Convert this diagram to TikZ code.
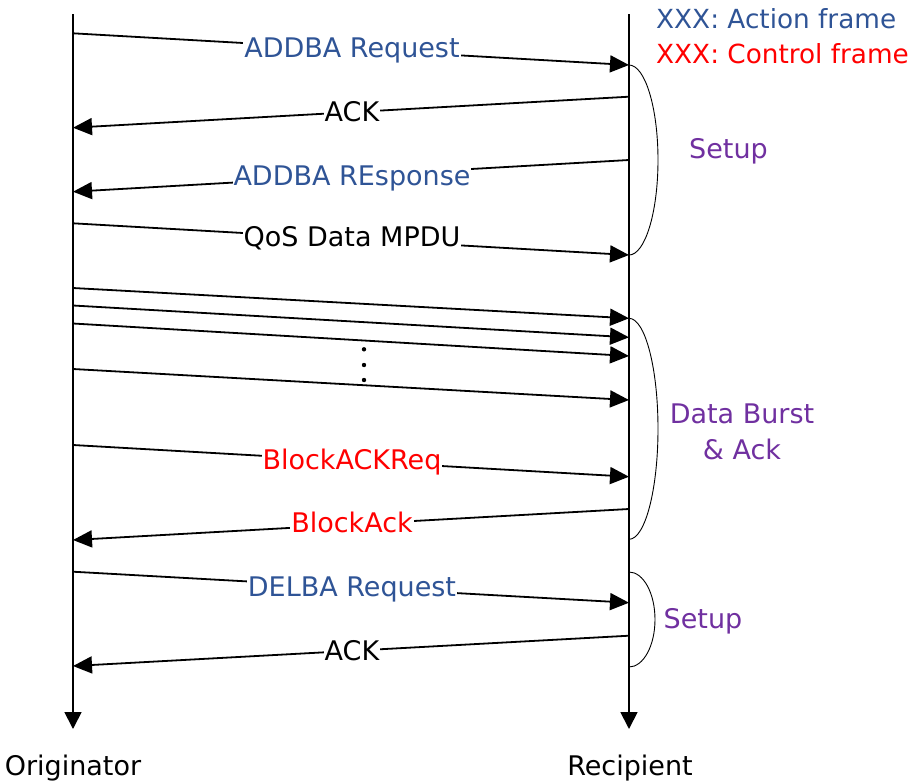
\documentclass[tikz,border=0pt]{standalone}
\usepackage{fontspec}
\setmainfont{DejaVu Sans}
\usetikzlibrary{arrows.meta}
\definecolor{actblue}{RGB}{47,84,150}
\definecolor{ctlred}{RGB}{255,0,0}
\definecolor{grpurple}{RGB}{112,48,160}

\begin{document}
\begin{tikzpicture}[x=1pt,y=-1pt,
  txt/.style={font=\fontsize{27}{30}\selectfont, inner xsep=1pt, inner ysep=0pt, anchor=base},
  keytxt/.style={txt, font=\fontsize{26.3}{30}\selectfont, anchor=base west},
  msglbl/.style={txt, fill=white},
  msg/.style={line width=1.8pt, -{Triangle[length=19pt,width=17pt]}},
  life/.style={line width=1.8pt, -{Triangle[length=17pt,width=17pt]}},
  bracket/.style={line width=0.9pt},
  dot/.style={circle, fill=black, inner sep=0pt, minimum size=4.4pt},
]
\useasboundingbox (0,0) rectangle (916,780);

% lifelines
\coordinate (ot) at (73,14);  \coordinate (ob) at (73,729);
\coordinate (rt) at (629,14); \coordinate (rb) at (629,729);
\draw[life] (ot) -- (ob);
\draw[life] (rt) -- (rb);
\node[txt] (orig) at (73,775) {Originator};
\node[txt] (reci) at (630,775) {Recipient};

% message end points on the lifelines
\coordinate (m1a) at (73,33.3);   \coordinate (m1b) at (629,65);
\coordinate (m2a) at (629,96.7);  \coordinate (m2b) at (73,127.7);
\coordinate (m3a) at (629,160);   \coordinate (m3b) at (73,191.7);
\coordinate (m4a) at (73,223.3);  \coordinate (m4b) at (629,255);
\coordinate (d1a) at (73,288);    \coordinate (d1b) at (629,318.3);
\coordinate (d2a) at (73,305.5);  \coordinate (d2b) at (629,337.3);
\coordinate (d3a) at (73,323.5);  \coordinate (d3b) at (629,356);
\coordinate (d4a) at (73,369);    \coordinate (d4b) at (629,400);
\coordinate (m5a) at (73,445);    \coordinate (m5b) at (629,476.7);
\coordinate (m6a) at (629,509);   \coordinate (m6b) at (73,540);
\coordinate (m7a) at (73,571.7);  \coordinate (m7b) at (629,602.7);
\coordinate (m8a) at (629,635.7); \coordinate (m8b) at (73,666);

\foreach \m in {m1,m2,m3,m4,d1,d2,d3,d4,m5,m6,m7,m8}
  \draw[msg] (\m a) -- (\m b);

% message labels
\node[msglbl, text=actblue] (l1) at (352,57.3)  {ADDBA Request};
\node[msglbl]               (l2) at (352,121.7) {ACK};
\node[msglbl, text=actblue] (l3) at (352,185)   {ADDBA REsponse};
\node[msglbl]               (l4) at (352,246.7) {QoS Data MPDU};
\node[msglbl, text=ctlred]  (l5) at (352,469)   {BlockACKReq};
\node[msglbl, text=ctlred]  (l6) at (352,532.3) {BlockAck};
\node[msglbl, text=actblue] (l7) at (352,596.7) {DELBA Request};
\node[msglbl]               (l8) at (352,660)   {ACK};

% ellipsis between data frames
\node[dot] (e1) at (364,349.3) {};
\node[dot] (e2) at (364,365)   {};
\node[dot] (e3) at (364,380)   {};

% phase brackets on the recipient side
\coordinate (g1) at (629,65);
\coordinate (g2) at (629,318.3);
\coordinate (g3) at (629,572);
\draw[bracket] (g1) arc[start angle=-90, end angle=90, x radius=29, y radius=95];
\draw[bracket] (g2) arc[start angle=-90, end angle=90, x radius=29, y radius=110.5];
\draw[bracket] (g3) arc[start angle=-90, end angle=90, x radius=26, y radius=47.5];

\node[txt, anchor=base west, text=grpurple] (p1) at (688,158.3) {Setup};
\node[txt, text=grpurple] (p2) at (742,423.3) {Data Burst};
\node[txt, text=grpurple] (p2b) at (742,459) {\& Ack};
\node[txt, anchor=base west, text=grpurple] (p3) at (662.5,628.3) {Setup};

% legend
\node[keytxt, text=actblue] (k1) at (655,28.3) {XXX: Action frame};
\node[keytxt, text=ctlred]  (k2) at (655,63.3) {XXX: Control frame};
\end{tikzpicture}
\end{document}
